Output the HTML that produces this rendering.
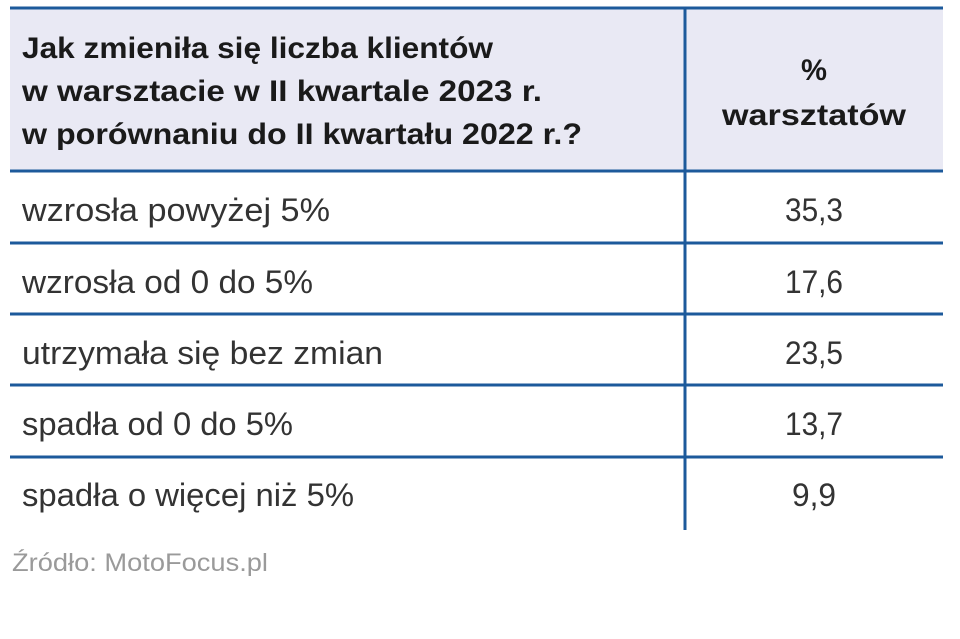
<!DOCTYPE html>
<html><head><meta charset="utf-8"><style>
html,body{margin:0;padding:0;background:#fff;width:960px;height:639px;overflow:hidden}
svg{display:block}
text{font-family:"Liberation Sans",sans-serif}
</style></head><body>
<svg width="960" height="639" viewBox="0 0 960 639">
<rect x="10" y="8" width="933" height="163" fill="#e9e9f4"/>
<g fill="#1a1a1a" font-weight="bold" font-size="30">
<text x="22" y="58" textLength="471" lengthAdjust="spacingAndGlyphs">Jak zmieniła się liczba klientów</text>
<text x="22" y="101" textLength="520" lengthAdjust="spacingAndGlyphs">w warsztacie w II kwartale 2023 r.</text>
<text x="22" y="144" textLength="560" lengthAdjust="spacingAndGlyphs">w porównaniu do II kwartału 2022 r.?</text>
</g>
<g fill="#1a1a1a" font-weight="bold" font-size="30" text-anchor="middle">
<text x="814" y="80" textLength="26" lengthAdjust="spacingAndGlyphs">%</text>
<text x="814" y="125" textLength="184" lengthAdjust="spacingAndGlyphs">warsztatów</text>
</g>
<g stroke="#1d5a9b" stroke-width="3">
<line x1="10" y1="8" x2="943" y2="8"/>
<line x1="10" y1="171" x2="943" y2="171"/>
<line x1="10" y1="243" x2="943" y2="243"/>
<line x1="10" y1="314" x2="943" y2="314"/>
<line x1="10" y1="385" x2="943" y2="385"/>
<line x1="10" y1="457" x2="943" y2="457"/>
<line x1="685" y1="8" x2="685" y2="530"/>
</g>
<g fill="#333" font-size="32">
<text x="22" y="221" textLength="308" lengthAdjust="spacingAndGlyphs">wzrosła powyżej 5%</text>
<text x="22" y="293" textLength="291" lengthAdjust="spacingAndGlyphs">wzrosła od 0 do 5%</text>
<text x="22" y="364" textLength="361" lengthAdjust="spacingAndGlyphs">utrzymała się bez zmian</text>
<text x="22" y="435" textLength="271" lengthAdjust="spacingAndGlyphs">spadła od 0 do 5%</text>
<text x="22" y="506" textLength="332" lengthAdjust="spacingAndGlyphs">spadła o więcej niż 5%</text>
</g>
<g fill="#333" font-size="32" text-anchor="middle">
<text x="814" y="221" textLength="58" lengthAdjust="spacingAndGlyphs">35,3</text>
<text x="814" y="293" textLength="58" lengthAdjust="spacingAndGlyphs">17,6</text>
<text x="814" y="364" textLength="58" lengthAdjust="spacingAndGlyphs">23,5</text>
<text x="814" y="435" textLength="58" lengthAdjust="spacingAndGlyphs">13,7</text>
<text x="814" y="506" textLength="44" lengthAdjust="spacingAndGlyphs">9,9</text>
</g>
<text x="12" y="571" fill="#9a9a9a" font-size="25" textLength="256" lengthAdjust="spacingAndGlyphs">Źródło: MotoFocus.pl</text>
</svg>
</body></html>
